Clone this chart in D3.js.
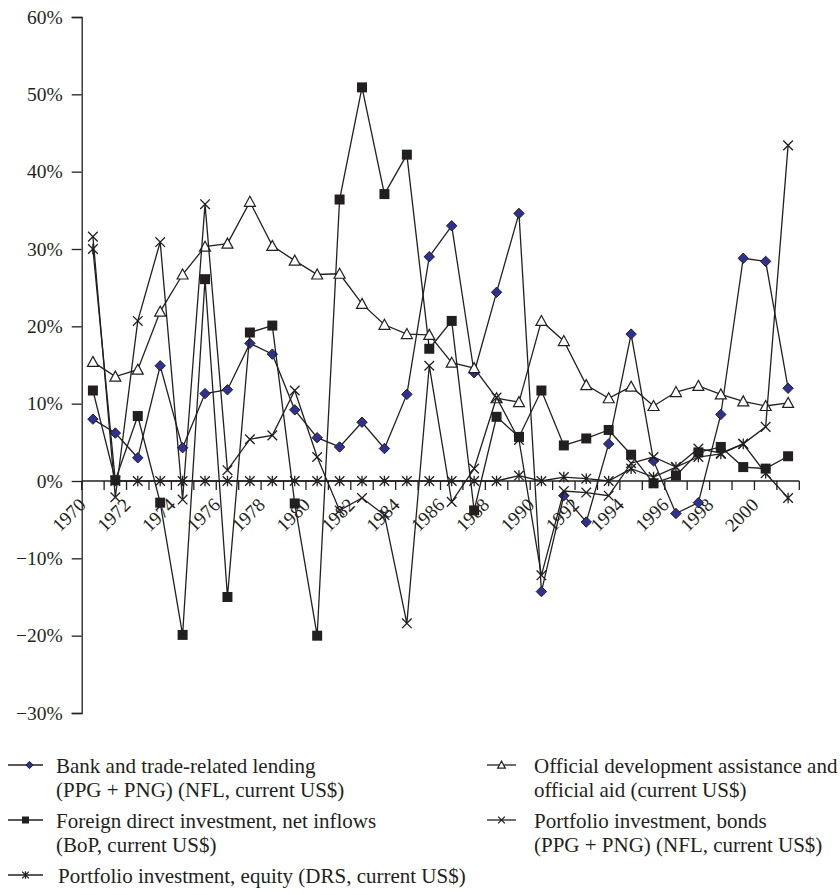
<!DOCTYPE html>
<html><head><meta charset="utf-8">
<script src="https://cdn.jsdelivr.net/npm/d3@7"></script>
<style>body{margin:0;background:#fff}svg{display:block}text{font-family:"Liberation Serif","DejaVu Serif",serif;fill:#231f20}</style>
</head><body><svg id="c" width="840" height="895"></svg>
<script>
const years = d3.range(1970, 2002);
const yTicks = [-30,-20,-10,0,10,20,30,40,50,60];
const bank = [8.0,6.2,3.0,14.9,4.3,11.3,11.8,17.8,16.4,9.2,5.6,4.4,7.6,4.2,11.2,29.0,33.0,14.0,24.4,34.6,-14.3,-1.9,-5.3,4.8,19.0,2.6,-4.2,-2.8,8.6,28.8,28.4,12.0];
const fdi = [11.7,0.1,8.4,-2.8,-19.9,26.1,-15.0,19.2,20.1,-2.9,-20.0,36.4,50.9,37.1,42.2,17.1,20.7,-3.8,8.3,5.7,11.7,4.6,5.5,6.6,3.4,-0.3,0.7,3.7,4.4,1.8,1.6,3.2];
const oda = [15.4,13.5,14.4,21.9,26.7,30.3,30.7,36.1,30.4,28.5,26.7,26.8,22.9,20.2,19.0,18.9,15.3,14.6,10.7,10.2,20.7,18.1,12.4,10.7,12.2,9.7,11.5,12.3,11.2,10.3,9.7,10.1];
const bonds = [31.6,-2.1,20.7,30.9,-2.4,35.8,1.4,5.4,5.9,11.7,3.1,-3.8,-2.2,-4.4,-18.4,14.9,-2.7,1.6,10.8,5.3,-12.2,-1.3,-1.5,-1.9,2.3,3.1,1.8,4.2,3.6,4.8,7.0,43.4];
const equity = [30.0,0,0,0,0,0,0,0,0,0,0,0,0,0,0,0,0,0,0,0.7,0,0.5,0.3,0,1.6,0.5,1.8,3.1,3.5,4.8,1.0,-2.2];
const seriesNames = [
  ["Bank and trade-related lending","(PPG + PNG) (NFL, current US$)"],
  ["Foreign direct investment, net inflows","(BoP, current US$)"],
  ["Official development assistance and","official aid (current US$)"],
  ["Portfolio investment, bonds","(PPG + PNG) (NFL, current US$)"],
  ["Portfolio investment, equity (DRS, current US$)"]
];
const series = [bank, fdi, oda, bonds, equity];
const markers = ["diamond","square","triangle","x","star"];

const ink = "#231f20";
const svg = d3.select("#c");
const x = d3.scaleBand().domain(years).range([81.7, 799.3]).padding(0);
const y = d3.scaleLinear().domain([-30, 60]).range([713, 17]);
const cx = d => x(d) + x.bandwidth()/2;

// y axis
const yAxis = d3.axisLeft(y).tickValues(yTicks).tickSize(10).tickPadding(9)
  .tickFormat(d => (d < 0 ? "\u2212" + Math.abs(d) : d) + "%");
const ga = svg.append("g").attr("transform", "translate(81.7,0)").call(yAxis);
ga.select(".domain").attr("stroke", ink).attr("stroke-width", 1.3);
ga.selectAll(".tick line").attr("stroke", ink).attr("stroke-width", 1.3);
ga.selectAll(".tick text").style("font-size", "19.5px").attr("fill", ink);

// x axis at zero
const y0 = y(0);
const gx = svg.append("g");
gx.append("line").attr("x1", x.range()[0]).attr("x2", x.range()[1]).attr("y1", y0).attr("y2", y0)
  .attr("stroke", ink).attr("stroke-width", 1.3);
const bounds = years.map(d => x(d)).concat([x.range()[1]]);
gx.selectAll("line.t").data(bounds).join("line").attr("class","t")
  .attr("x1", d => d).attr("x2", d => d).attr("y1", y0).attr("y2", y0 + 9)
  .attr("stroke", ink).attr("stroke-width", 1.3);
gx.selectAll("text").data(years.filter(d => d % 2 === 0)).join("text")
  .attr("transform", d => `translate(${cx(d) - 6},${y0 + 25}) rotate(-45)`)
  .attr("text-anchor", "end").style("font-size", "19px").text(d => d);

// markers
function drawMarker(g, type, px, py, s) {
  s = s || 1;
  if (type === "diamond") {
    g.append("path").attr("d", `M${px},${py-5.2*s}L${px+5.2*s},${py}L${px},${py+5.2*s}L${px-5.2*s},${py}Z`)
      .attr("fill", "#2e3192").attr("stroke", ink).attr("stroke-width", 1);
  } else if (type === "square") {
    g.append("rect").attr("x", px-5*s).attr("y", py-5*s).attr("width", 10*s).attr("height", 10*s)
      .attr("fill", ink);
  } else if (type === "triangle") {
    g.append("path").attr("d", `M${px},${py-5.5*s}L${px+5.5*s},${py+4.5*s}L${px-5.5*s},${py+4.5*s}Z`)
      .attr("fill", "#fff").attr("stroke", ink).attr("stroke-width", 1.2);
  } else if (type === "x") {
    const r = 4.8*s;
    g.append("path").attr("d", `M${px-r},${py-r}L${px+r},${py+r}M${px-r},${py+r}L${px+r},${py-r}`)
      .attr("stroke", ink).attr("stroke-width", 1.3).attr("fill","none");
  } else if (type === "star") {
    const r = 4.8*s;
    g.append("path").attr("d", `M${px-r},${py-r}L${px+r},${py+r}M${px-r},${py+r}L${px+r},${py-r}M${px},${py-r*1.1}L${px},${py+r*1.1}`)
      .attr("stroke", ink).attr("stroke-width", 1.3).attr("fill","none");
  }
}

const line = d3.line().x((d,i) => cx(years[i])).y(d => y(d));
series.forEach((vals, k) => {
  const g = svg.append("g");
  g.append("path").attr("d", line(vals)).attr("fill", "none").attr("stroke", ink).attr("stroke-width", 1.3);
  vals.forEach((v, i) => drawMarker(g, markers[k], cx(years[i]), y(v)));
});

// legend
const legendPos = [
  {lx: 8, tx: 56, y: 765},
  {lx: 8, tx: 56, y: 820},
  {lx: 487, tx: 534, y: 765},
  {lx: 487, tx: 534, y: 820},
  {lx: 8, tx: 58, y: 875}
];
series.forEach((vals, k) => {
  const p = legendPos[k];
  const g = svg.append("g");
  const len = k >= 2 && k <= 3 ? 29 : 35;
  g.append("line").attr("x1", p.lx).attr("x2", p.lx + len).attr("y1", p.y).attr("y2", p.y)
    .attr("stroke", ink).attr("stroke-width", 1.3);
  drawMarker(g, markers[k], p.lx + len/2 + (k === 0 ? 4 : 0), p.y, 0.7);
  seriesNames[k].forEach((t, j) => {
    g.append("text").attr("x", p.tx).attr("y", p.y + 8 + j*24).style("font-size", "21px").text(t);
  });
});
</script></body></html>
